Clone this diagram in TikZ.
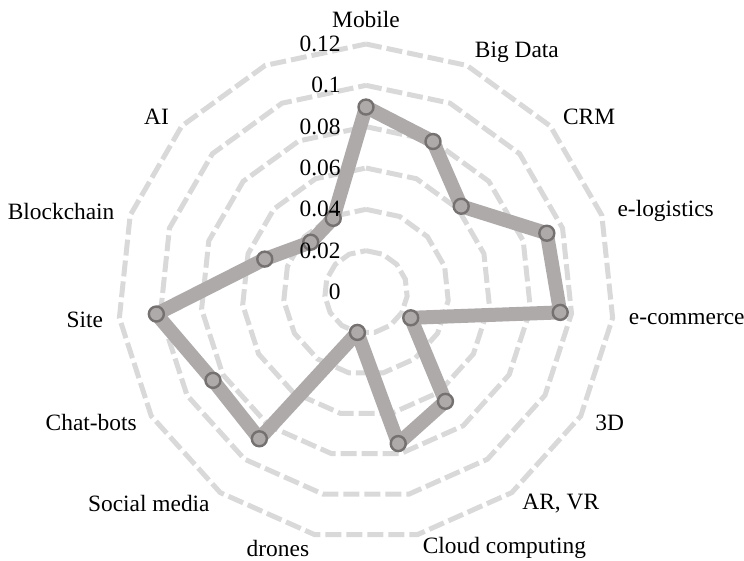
\documentclass[tikz,border=0pt]{standalone}
\usepackage{fontspec}
\setmainfont{Liberation Serif}
\usetikzlibrary{positioning,calc}
\definecolor{gridgray}{HTML}{D9D9D9}
\definecolor{linegray}{HTML}{AEAAAA}
\definecolor{markgray}{HTML}{767171}

\begin{document}
\begin{tikzpicture}[
    x=0.5pt, y=0.5pt,
    every node/.style={font=\fontsize{11.7}{14}\selectfont, inner sep=1pt},
    ring/.style={draw=gridgray, line width=2.5pt, dash pattern=on 8pt off 2.5pt},
    series/.style={draw=linegray, line width=7pt, line join=round},
    dot/.style={circle, minimum size=7.5pt, inner sep=0pt, fill=linegray, draw=markgray, line width=1.2pt},
    axlab/.style={text=black},
    vallab/.style={anchor=east},
    ]
    \useasboundingbox (0,0) rectangle (744,561);

    \begin{scope}[shift={(366,269)}]
    %% grid rings (0.02 ... 0.12)
    \foreach \k in {1,...,6}
        \draw[ring] (90:{41.33*\k}) \foreach \j in {1,...,14} { -- ({90-24*\j}:{41.33*\k}) } -- cycle;

    %% data points, clockwise from the top
    \foreach \n/\v [count=\i from 0] in {mob/0.0895, bigd/0.0797, crm/0.062, elog/0.092,
            ecom/0.0945, thd/0.025, arvr/0.0654, cloud/0.075, drone/0.020, social/0.0878,
            chat/0.0855, site/0.102, block/0.0515, ai/0.036, blank/0.039}
        \coordinate (d_\n) at ({90-24*\i}:{\v*248/0.12});

    %% series line
    \draw[series] (d_mob) -- (d_bigd) -- (d_crm) -- (d_elog) -- (d_ecom) -- (d_thd)
        -- (d_arvr) -- (d_cloud) -- (d_drone) -- (d_social) -- (d_chat) -- (d_site)
        -- (d_block) -- (d_ai) -- (d_blank) -- cycle;

    %% markers
    \foreach \n in {mob, bigd, crm, elog, ecom, thd, arvr, cloud, drone, social, chat, site, block, ai, blank}
        \node[dot] (m_\n) at (d_\n) {};

    %% axis labels
    \node[axlab, anchor=south] (l_mob)    at (90:262)   {Mobile};
    \node[axlab, anchor=west]  (l_bigd)   at (66:262)   {Big Data};
    \node[axlab, anchor=west]  (l_crm)    at (42:262)   {CRM};
    \node[axlab, anchor=west]  (l_elog)   at (18:262)   {e-logistics};
    \node[axlab, anchor=west]  (l_ecom)   at (-6:262)   {e-commerce};
    \node[axlab, anchor=west]  (l_thd)    at (-30:262)  {3D};
    \node[axlab, anchor=west]  (l_arvr)   at (-54:262)  {AR, VR};
    \node[axlab, anchor=west]  (l_cloud)  at (-78:262)  {Cloud computing};
    \node[axlab, anchor=east]  (l_drone)  at (-102:262) {drones};
    \node[axlab, anchor=east]  (l_social) at (-126:262) {Social media};
    \node[axlab, anchor=east]  (l_chat)   at (-150:262) {Chat-bots};
    \node[axlab, anchor=east]  (l_site)   at (-174:262) {Site};
    \node[axlab, anchor=east]  (l_block)  at (162:262)  {Blockchain};
    \node[axlab, anchor=east]  (l_ai)     at (138:262)  {AI};

    %% value labels
    \foreach \v [count=\k from 0] in {0,0.02,0.04,0.06,0.08,0.1,0.12}
        \node[vallab] (v_\k) at (-23, {41.33*\k}) {\v};
    \end{scope}
\end{tikzpicture}
\end{document}
